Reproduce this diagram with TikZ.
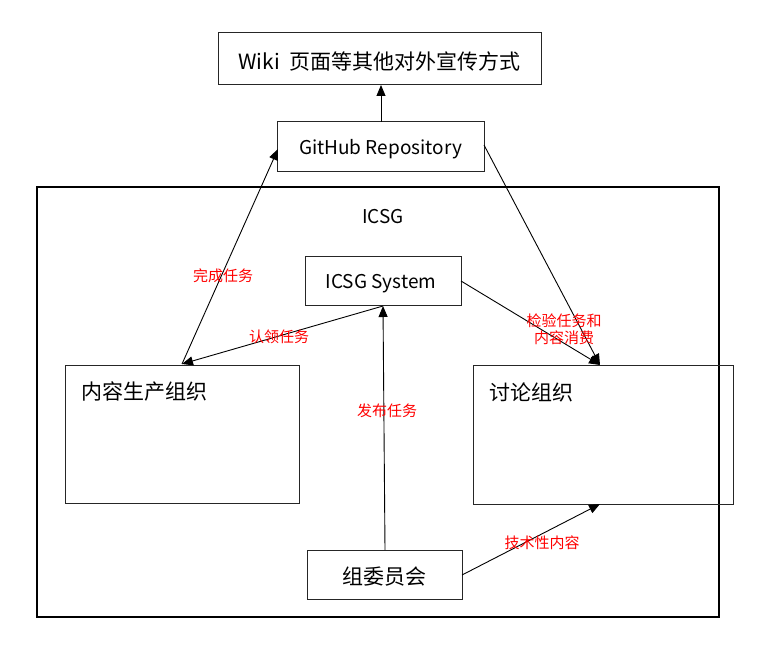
\documentclass[tikz,border=0pt]{standalone}
\usepackage{fontspec}
\setmainfont{Noto Sans CJK SC}
\usetikzlibrary{arrows.meta}
\begin{document}
\begin{tikzpicture}[x=1pt,y=-1pt,
  box/.style={draw=black!85,line width=1pt,inner sep=0pt},
  conn/.style={draw=black,line width=0.9pt,-{Triangle[length=11pt,width=9pt]}},
  lbl/.style={text=red,font=\fontsize{15}{17.5}\selectfont,inner sep=0pt,align=center,yshift=-1.5pt},
  main/.style={font=\fontsize{21}{25}\selectfont,inner sep=0pt,yshift=-2pt},
  sub/.style={font=\fontsize{19}{23}\selectfont,inner sep=0pt,yshift=-2.5pt}]
\useasboundingbox (0,0) rectangle (765,658);
\fill[white] (0,0) rectangle (765,658);
% frame
\draw[line width=2pt] (37,187) rectangle (719,617);
\node[sub] (icsg) at (383,214) {ICSG};
% boxes
\draw[box] (218,33) rectangle (541,85);
\node[main] (wikit) at (379.5,59) {Wiki\ \ 页面等其他对外宣传方式};
\coordinate (wiki) at (381,85);
\draw[box] (277,122) rectangle (484,171);
\node[sub] (ght) at (380.5,147) {GitHub Repository};
\coordinate (ghtop) at (381,122);
\coordinate (ghleft) at (278,149);
\coordinate (ghright) at (484,145);
\draw[box] (305,256) rectangle (461,305);
\node[sub] (syst) at (381,281) {ICSG System};
\coordinate (sysbot) at (383,306);
\coordinate (sysright) at (461,281);
\draw[box] (65,365) rectangle (299,503);
\node[main,anchor=west] (prodt) at (81,390) {内容生产组织};
\coordinate (prodtop) at (182,364);
\draw[box] (473,365) rectangle (733,504);
\node[main,anchor=west] (disct) at (489,390) {讨论组织};
\coordinate (disctop) at (600,365);
\coordinate (discbot) at (600,504);
\draw[box] (307,550) rectangle (462,599);
\node[main] (comt) at (384.5,575) {组委员会};
\coordinate (comtop) at (385,550);
\coordinate (comright) at (462,575);
% connectors
\draw[conn] (ghtop) -- (wiki);
\draw[conn] (prodtop) -- (ghleft);
\draw[conn] (ghright) -- (disctop);
\draw[conn] (sysbot) -- (prodtop);
\draw[conn] (sysright) -- (disctop);
\draw[conn] (comtop) -- (sysbot);
\draw[conn] (comright) -- (discbot);
% labels
\node[lbl] (l1) at (223,274) {完成任务};
\node[lbl] (l2) at (279,335) {认领任务};
\node[lbl] (l3) at (564,328) {检验任务和\\内容消费};
\node[lbl] (l4) at (387,409) {发布任务};
\node[lbl] (l5) at (542,541) {技术性内容};
\end{tikzpicture}
\end{document}
